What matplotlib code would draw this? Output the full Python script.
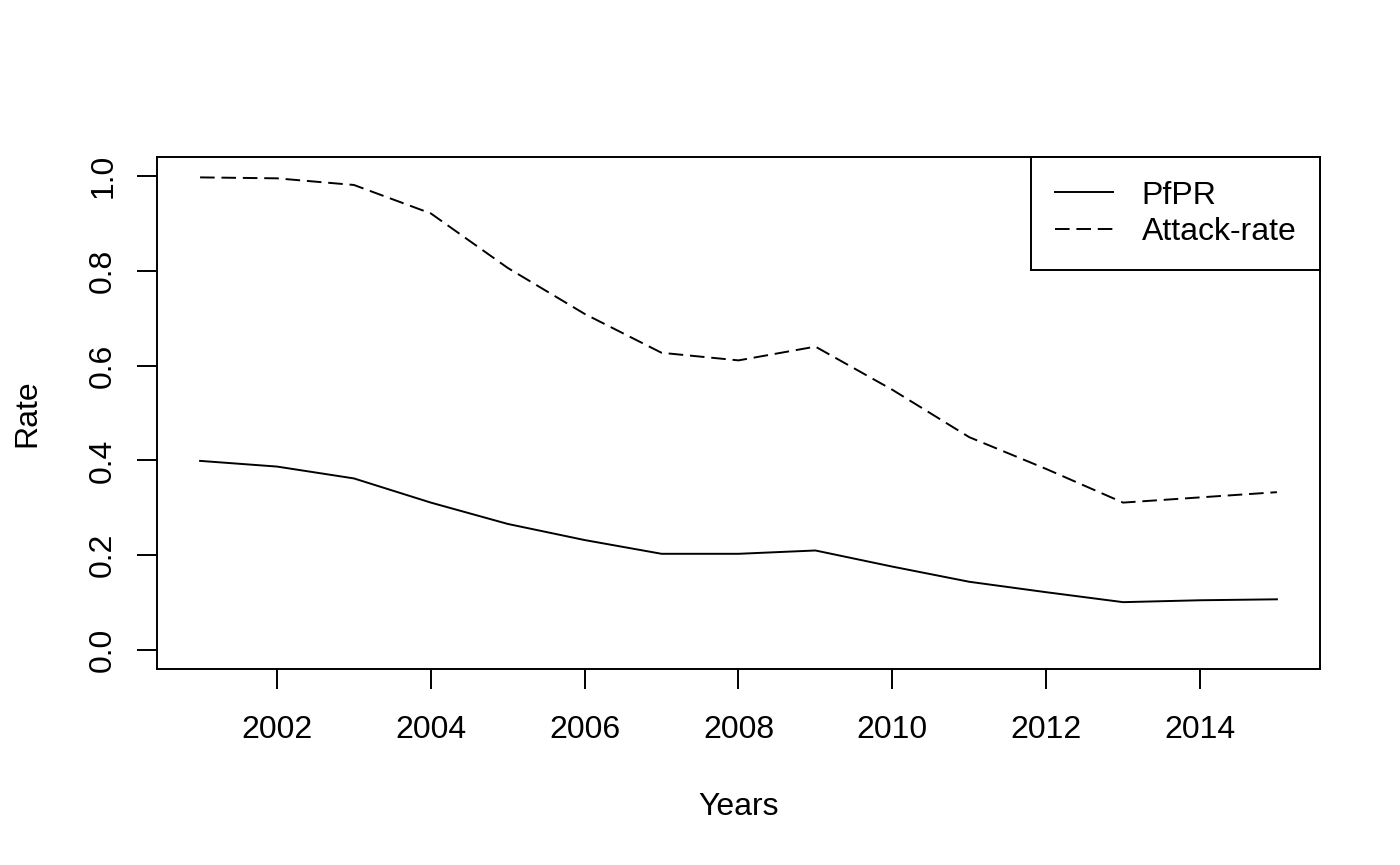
import matplotlib
matplotlib.use("Agg")
import matplotlib.pyplot as plt

years = [2001, 2002, 2003, 2004, 2005, 2006, 2007, 2008, 2009, 2010, 2011, 2012, 2013, 2014, 2015]
pfpr = [0.399, 0.387, 0.362, 0.311, 0.266, 0.232, 0.203, 0.203, 0.210, 0.176, 0.144, 0.122, 0.101, 0.105, 0.107]
attack_rate = [0.997, 0.995, 0.981, 0.921, 0.806, 0.709, 0.627, 0.611, 0.640, 0.549, 0.449, 0.382, 0.311, 0.322, 0.333]
x_ticks = [2002, 2004, 2006, 2008, 2010, 2012, 2014]
y_ticks = [0.0, 0.2, 0.4, 0.6, 0.8, 1.0]
series_labels = ["PfPR", "Attack-rate"]

plt.rcParams['font.family'] = ['Liberation Sans', 'DejaVu Sans']
FS = 23
LW = 1.4

fig = plt.figure(figsize=(14, 8.65), dpi=100)
ax = fig.add_axes([157/1400, 1 - 669/865, (1320-157)/1400, (669-157)/865])

ax.plot(years, pfpr, color='black', lw=LW, label=series_labels[0])
ax.plot(years, attack_rate, color='black', lw=LW, dashes=(7.5, 3.5), label=series_labels[1])

span = years[-1] - years[0]
ax.set_xlim(years[0] - 0.04*span, years[-1] + 0.04*span)
ax.set_ylim(-0.04, 1.04)
ax.set_xticks(x_ticks)
ax.set_xticklabels([str(t) for t in x_ticks])
ax.set_yticks(y_ticks)
ax.set_yticklabels([f"{t:.1f}" for t in y_ticks])

for s in ax.spines.values():
    s.set_linewidth(LW)
ax.tick_params(axis='both', direction='out', length=14.4, width=LW, labelsize=FS)
ax.tick_params(axis='x', pad=18.5)
ax.tick_params(axis='y', pad=13.5)
plt.setp(ax.get_yticklabels(), rotation=90, va='center')

ax.set_xlabel("Years", fontsize=FS)
ax.set_ylabel("Rate", fontsize=FS)
ax.xaxis.set_label_coords(0.5, -0.2705)
ax.xaxis.label.set_va('center')
ax.yaxis.set_label_coords(-0.1115, 0.5)
ax.yaxis.label.set_va('center')

leg = ax.legend(loc='upper right', bbox_to_anchor=(1.0, 1.0), borderaxespad=0,
                fontsize=FS, frameon=True, fancybox=False, edgecolor='black',
                borderpad=0.74, labelspacing=0.19, handlelength=1.82, handletextpad=0.9)
leg.get_frame().set_linewidth(LW)
leg.get_frame().set_alpha(1)

fig.savefig("out.png", dpi=100)
